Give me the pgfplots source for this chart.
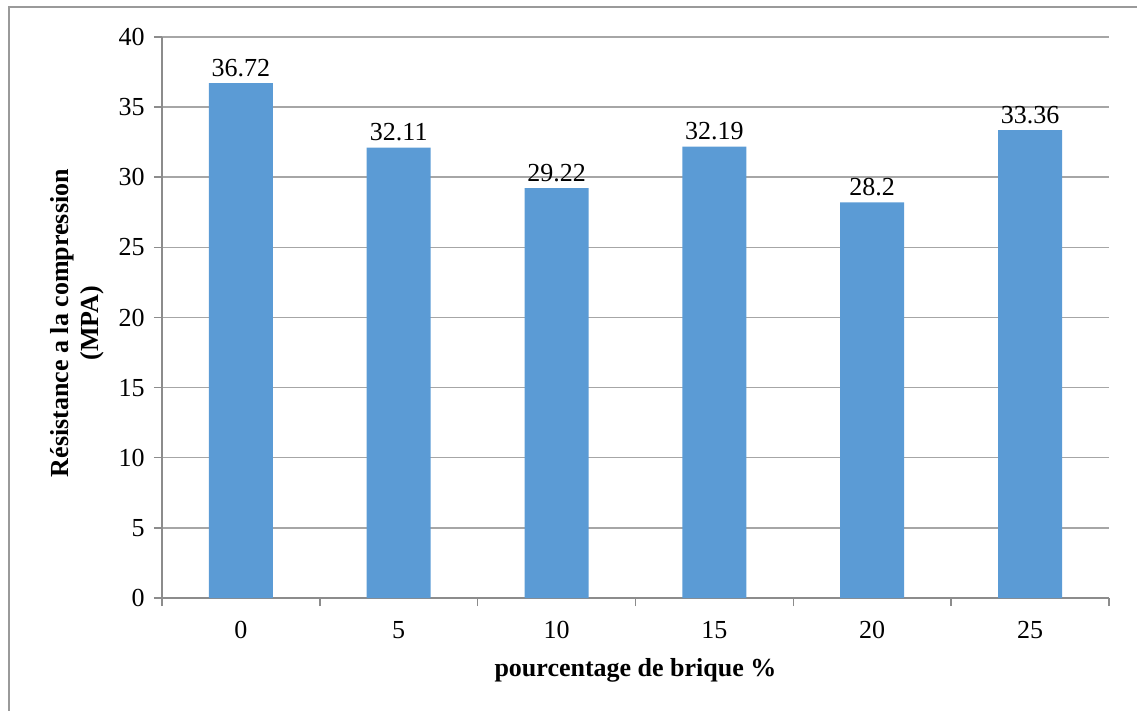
\documentclass[border=0pt]{standalone}
\usepackage{fontspec}
\setmainfont{Liberation Serif}
\usepackage{pgfplots}
\pgfplotsset{compat=1.18}
\definecolor{barblue}{HTML}{5B9BD5}
\definecolor{gridgray}{HTML}{A6A6A6}
\definecolor{axisgray}{HTML}{8C8C8C}
\definecolor{framegray}{HTML}{9A9A9A}
\begin{document}
\begin{tikzpicture}
% page: 1137 x 711 units of 0.5pt
\useasboundingbox (0,0) rectangle (568.5pt,-355.5pt);
% chart area border (continues past the page on the right and bottom)
\draw[framegray, line width=0.75pt] (4.5pt,-400pt) -- (4.5pt,-3.5pt) -- (600pt,-3.5pt);
\begin{axis}[
  at={(81pt,-299pt)}, anchor=south west,
  scale only axis,
  width=473.5pt, height=280.5pt,
  xmin=-0.5, xmax=5.5,
  ymin=0, ymax=40,
  ytick={0,5,...,40},
  xtick={-0.5,0.5,...,5.5},
  xticklabels={},
  extra x ticks={0,1,2,3,4,5},
  extra x tick labels={0,5,10,15,20,25},
  extra x tick style={major tick length=0pt, grid=none},
  axis x line*=bottom,
  axis y line*=left,
  axis line style={axisgray, line width=0.75pt},
  tick align=outside,
  major tick length=4pt,
  tick style={axisgray, line width=0.75pt},
  ymajorgrids,
  xmajorgrids=false,
  grid style={gridgray, line width=0.75pt},
  /pgf/number format/assume math mode=true,
  ticklabel style={font=\fontsize{13pt}{15pt}\selectfont},
  yticklabel style={inner sep=0pt, xshift=-4.5pt},
  xticklabel style={anchor=base, inner sep=0pt, yshift=-20pt},
  xlabel={pourcentage de brique \%},
  xlabel style={font=\fontsize{13pt}{15pt}\selectfont\bfseries,
    at={(axis description cs:0.5,-0.1408)}, anchor=base},
  ylabel={Résistance a la compression\\(MPA)},
  ylabel style={font=\fontsize{13pt}{15pt}\selectfont\bfseries, align=center,
    at={(axis description cs:-0.0898,0.49)}, anchor=center, rotate=0},
  clip=false,
]
\addplot[ybar, bar width=32pt, fill=barblue, draw=none,
  nodes near coords,
  nodes near coords style={font=\fontsize{13pt}{15pt}\selectfont, anchor=south, inner sep=3pt},
  point meta=explicit symbolic]
  coordinates {
    (0,36.72) [36.72]
    (1,32.11) [32.11]
    (2,29.22) [29.22]
    (3,32.19) [32.19]
    (4,28.2)  [28.2]
    (5,33.36) [33.36]
  };
\end{axis}
\end{tikzpicture}
\end{document}
